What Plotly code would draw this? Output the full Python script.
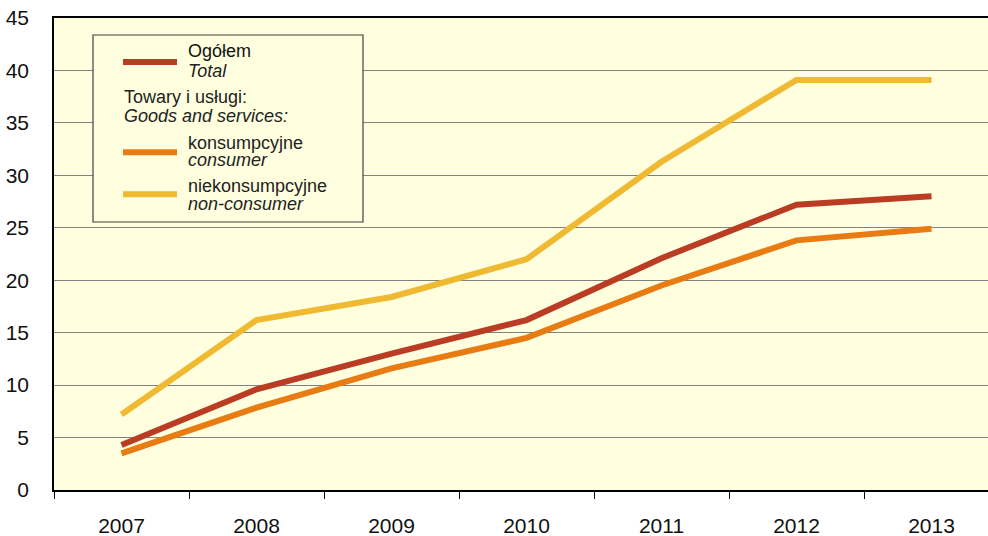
import plotly.graph_objects as go

years = ["2007", "2008", "2009", "2010", "2011", "2012", "2013"]
total = [4.3, 9.6, 13.0, 16.2, 22.1, 27.2, 28.0]
consumer = [3.5, 7.85, 11.6, 14.5, 19.5, 23.8, 24.9]
non_consumer = [7.2, 16.2, 18.4, 22.0, 31.3, 39.1, 39.1]
y_ticks = [0, 5, 10, 15, 20, 25, 30, 35, 40, 45]

C_TOTAL = "#B93C23"
C_CONS = "#E87C12"
C_NONC = "#F0B932"
BG = "#FFFFE0"
FONT = "Liberation Sans, Arial, sans-serif"

W, H = 988, 536
L, R, T, B = 54, 0, 18, 46
PW, PH = W - L - R, H - T - B


def px(x):
    return (x - L) / PW


def py(y):
    return (H - B - y) / PH


fig = go.Figure()
for name, vals, col in [("Ogółem", total, C_TOTAL),
                        ("konsumpcyjne", consumer, C_CONS),
                        ("niekonsumpcyjne", non_consumer, C_NONC)]:
    fig.add_trace(go.Scatter(x=years, y=vals, mode="lines", name=name,
                             line=dict(color=col, width=6), showlegend=False))

shapes = [
    dict(type="rect", xref="paper", yref="paper", x0=px(93), x1=px(363), y0=py(35), y1=py(222),
         line=dict(color="#404040", width=1.2), fillcolor=BG, layer="above"),
]
for yy, col in [(62, C_TOTAL), (152.3, C_CONS), (194.3, C_NONC)]:
    shapes.append(dict(type="line", xref="paper", yref="paper", x0=px(123), x1=px(177),
                       y0=py(yy), y1=py(yy), line=dict(color=col, width=6), layer="above"))

texts = [
    ("Ogółem", 186, 50.8, False, "#111111"),
    ("Total", 186, 71, True, "#222222"),
    ("Towary i usługi:", 122, 97, False, "#222222"),
    ("Goods and services:", 122, 116.3, True, "#222222"),
    ("konsumpcyjne", 186, 143.3, False, "#222222"),
    ("consumer", 186, 160, True, "#222222"),
    ("niekonsumpcyjne", 186, 186.3, False, "#222222"),
    ("non-consumer", 186, 204, True, "#222222"),
]
annotations = []
for t, x, y, it, col in texts:
    annotations.append(dict(text=f"<i>{t}</i>" if it else t, xref="paper", yref="paper",
                            x=px(x), y=py(y), xanchor="left", yanchor="middle",
                            showarrow=False, font=dict(family=FONT, size=18, color=col)))

fig.update_layout(
    width=W, height=H,
    margin=dict(l=L, r=R, t=T, b=B, pad=0, autoexpand=False),
    paper_bgcolor="white", plot_bgcolor=BG,
    font=dict(family=FONT, size=21, color="#111111"),
    shapes=shapes, annotations=annotations,
    showlegend=False,
)
fig.update_xaxes(type="category", range=[-0.5, -0.5 + PW / 135.0], automargin=False,
                 showline=True, linecolor="black", linewidth=1.5, mirror=True,
                 ticks="outside", tickson="boundaries", ticklen=7, tickcolor="black", tickwidth=1.2,
                 ticklabelstandoff=16, ticklabeloverflow="allow", showgrid=False, zeroline=False)
fig.update_yaxes(range=[0, 45], tickvals=y_ticks, ticktext=[str(v) for v in y_ticks], automargin=False,
                 showline=True, linecolor="black", linewidth=1.5,
                 showgrid=True, gridcolor="#808080", gridwidth=1.3,
                 ticks="", ticklabelstandoff=19, ticklabeloverflow="allow", zeroline=False)

fig.write_html("out.html", config={"displayModeBar": False},
               post_script="document.body.style.margin='0';document.body.style.overflow='hidden';")
